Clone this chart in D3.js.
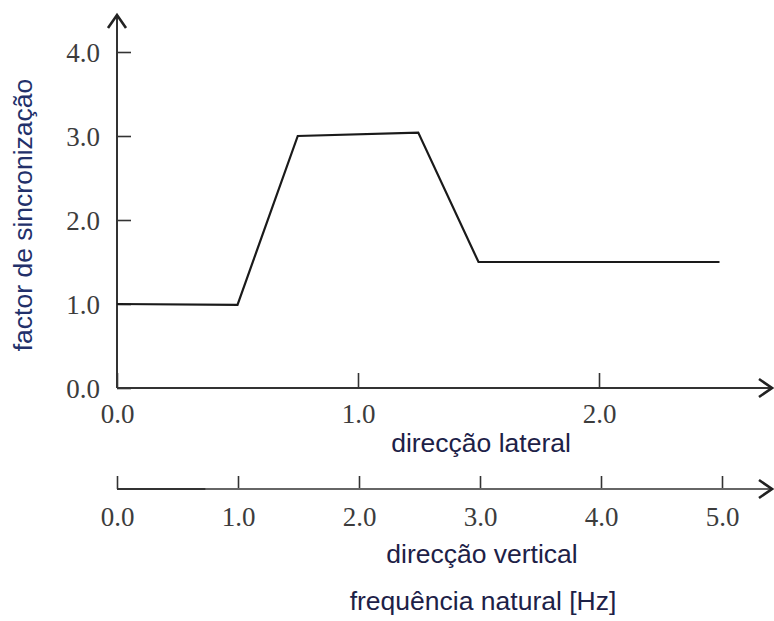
<!DOCTYPE html>
<html>
<head>
<meta charset="utf-8">
<script src="https://cdn.jsdelivr.net/npm/d3@7"></script>
<style>
  html, body { margin: 0; padding: 0; background: #fff; }
  svg { display: block; }
  .tick text { font-family: "Liberation Serif", "Times New Roman", serif; font-size: 27px; fill: #3c3c3c; }
  .title { font-family: "Liberation Sans", Arial, sans-serif; font-size: 26.5px; fill: #1d2147; }
</style>
</head>
<body>
<svg id="chart" width="774" height="621"></svg>
<script>
// Synchronisation factor vs. natural frequency (lateral / vertical direction)
const freqLateral = [0, 0.5, 0.75, 1.25, 1.5, 2.5];      // Hz, lateral direction
const syncFactor  = [1.0, 0.99, 3.0, 3.04, 1.5, 1.5];

const yTicks        = [0, 1, 2, 3, 4];
const lateralTicks  = [0, 1, 2];
const verticalTicks = [0, 1, 2, 3, 4, 5];

const yLabel        = "factor de sincronização";
const lateralLabel  = "direcção lateral";
const verticalLabel = "direcção vertical";
const freqLabel     = "frequência natural [Hz]";

const W = 774, H = 621;
const x0 = 117;              // shared origin of all axes
const yBase = 388;           // lateral axis baseline
const yVert = 489;           // vertical-direction axis baseline
const tipX = W - 2;          // arrow tips on the right
const tipY = 15;             // arrow tip on top

const svg = d3.select("#chart");
const fmt = d3.format(".1f");

const y = d3.scaleLinear().domain([0, 4]).range([yBase, 52]);
const xLat = d3.scaleLinear().domain([0, 2]).range([x0, 599]);
const xVer = d3.scaleLinear().domain([0, 5]).range([x0, 722]);

const axisStroke = "#333";

// arrow head helper (open chevron)
function chevron(g, tx, ty, dir) {
  const a = 13, b = 9;
  let pts;
  if (dir === "up") pts = [[tx - b, ty + a], [tx, ty], [tx + b, ty + a]];
  else pts = [[tx - a, ty - b], [tx, ty], [tx - a, ty + b]];
  g.append("path")
    .attr("d", d3.line()(pts))
    .attr("fill", "none")
    .attr("stroke", "#222")
    .attr("stroke-width", 2.6)
    .attr("stroke-linejoin", "miter");
}

// ---- y axis ----
const gy = svg.append("g").attr("transform", `translate(${x0},0)`)
  .call(d3.axisLeft(y).tickValues(yTicks).tickFormat(fmt)
        .tickSizeInner(-14).tickSizeOuter(0).tickPadding(17));
gy.select(".domain").remove();
gy.selectAll(".tick line").attr("stroke", axisStroke).attr("stroke-width", 1.6);
gy.selectAll(".tick text").attr("dy", "0.34em");
svg.append("line").attr("x1", x0).attr("x2", x0).attr("y1", yBase).attr("y2", tipY + 1)
  .attr("stroke", axisStroke).attr("stroke-width", 2);
chevron(svg, x0, tipY, "up");

// ---- lateral axis ----
const gl = svg.append("g").attr("transform", `translate(0,${yBase})`)
  .call(d3.axisBottom(xLat).tickValues(lateralTicks).tickFormat(fmt)
        .tickSizeInner(-15).tickSizeOuter(0).tickPadding(16));
gl.select(".domain").remove();
gl.selectAll(".tick line").attr("stroke", axisStroke).attr("stroke-width", 1.6);
svg.append("line").attr("x1", x0).attr("x2", tipX - 1).attr("y1", yBase).attr("y2", yBase)
  .attr("stroke", axisStroke).attr("stroke-width", 2);
chevron(svg, tipX, yBase, "right");

// ---- vertical-direction axis ----
const gv = svg.append("g").attr("transform", `translate(0,${yVert})`)
  .call(d3.axisBottom(xVer).tickValues(verticalTicks).tickFormat(fmt)
        .tickSizeInner(-13).tickSizeOuter(0).tickPadding(18));
gv.select(".domain").remove();
gv.selectAll(".tick line").attr("stroke", axisStroke).attr("stroke-width", 1.6);
svg.append("line").attr("x1", x0).attr("x2", tipX - 1).attr("y1", yVert).attr("y2", yVert)
  .attr("stroke", "#666").attr("stroke-width", 2);
svg.append("line").attr("x1", x0).attr("x2", xVer(0.73)).attr("y1", yVert).attr("y2", yVert)
  .attr("stroke", "#333").attr("stroke-width", 2);
chevron(svg, tipX, yVert, "right");

// ---- data line ----
const pts = freqLateral.map((f, i) => [xLat(f), y(syncFactor[i])]);
svg.append("path")
  .attr("d", d3.line()(pts))
  .attr("fill", "none")
  .attr("stroke", "#1a1a1a")
  .attr("stroke-width", 2.2)
  .attr("stroke-linejoin", "miter");

// ---- titles ----
svg.append("text").attr("class", "title")
  .attr("transform", `translate(32,215) rotate(-90)`)
  .attr("text-anchor", "middle")
  .style("fill", "#22306a")
  .text(yLabel);

svg.append("text").attr("class", "title")
  .attr("x", 481).attr("y", 452).attr("text-anchor", "middle").text(lateralLabel);
svg.append("text").attr("class", "title")
  .attr("x", 482).attr("y", 563).attr("text-anchor", "middle").text(verticalLabel);
svg.append("text").attr("class", "title")
  .attr("x", 483).attr("y", 610).attr("text-anchor", "middle").text(freqLabel);
</script>
</body>
</html>
